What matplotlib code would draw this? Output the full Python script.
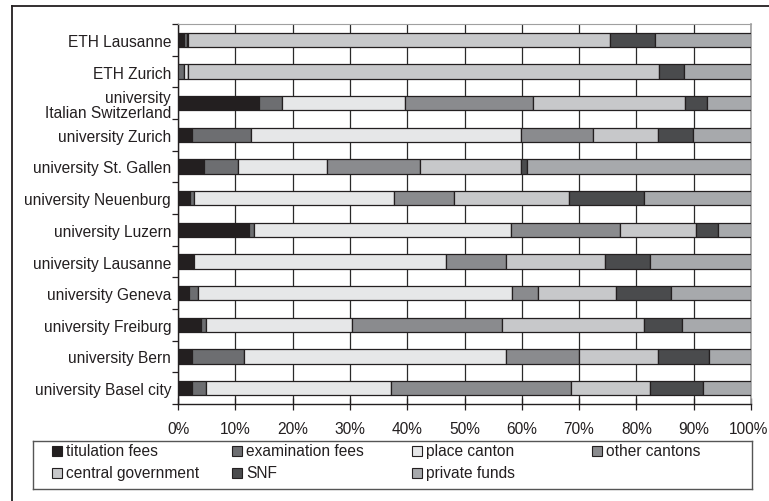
import matplotlib
matplotlib.use("Agg")
import matplotlib.pyplot as plt
import matplotlib.transforms as mtransforms
import numpy as np
from matplotlib.lines import Line2D
from matplotlib.patches import Rectangle

plt.rcParams["font.family"] = ["Liberation Sans", "DejaVu Sans"]

# universities, top to bottom as in the chart
universities = [
    "ETH Lausanne",
    "ETH Zurich",
    "university\nItalian Switzerland",
    "university Zurich",
    "university St. Gallen",
    "university Neuenburg",
    "university Luzern",
    "university Lausanne",
    "university Geneva",
    "university Freiburg",
    "university Bern",
    "university Basel city",
]

# share of funding per source (%), same order as universities
titulation_fees = [1.1, 0.0, 14.2, 2.5, 4.5, 2.1, 12.4, 2.7, 1.9, 4.1, 2.5, 2.4]
examination_fees = [0.4, 1.1, 3.9, 10.3, 5.9, 0.7, 0.9, 0.1, 1.6, 0.8, 9.0, 2.5]
place_canton = [0.3, 0.7, 21.5, 47.1, 15.6, 34.9, 44.9, 43.9, 54.8, 25.4, 45.8, 32.2]
other_cantons = [0.0, 0.0, 22.4, 12.5, 16.3, 10.5, 19.0, 10.6, 4.5, 26.3, 12.7, 31.5]
central_government = [73.6, 82.2, 26.4, 11.4, 17.5, 20.0, 13.2, 17.2, 13.6, 24.7, 13.8, 13.8]
snf = [7.8, 4.3, 3.9, 6.1, 1.1, 13.1, 3.8, 7.9, 9.7, 6.6, 8.9, 9.3]
private_funds = [16.8, 11.7, 7.7, 10.1, 39.1, 18.7, 5.8, 17.6, 13.9, 12.1, 7.3, 8.3]

series_names = [
    "titulation fees",
    "examination fees",
    "place canton",
    "other cantons",
    "central government",
    "SNF",
    "private funds",
]
series_values = [
    titulation_fees,
    examination_fees,
    place_canton,
    other_cantons,
    central_government,
    snf,
    private_funds,
]
colors = ["#231f20", "#6d6e71", "#e6e7e8", "#8a8b8e", "#c7c8ca", "#4a4b4d", "#a7a9ac"]
edge = "#231f20"
fs = 11.2

W, H = 769, 502
fig = plt.figure(figsize=(W / 100, H / 100), dpi=100, facecolor="white")

# axes rectangle in pixels: left 178, right 751, top 25, bottom 405
ax = fig.add_axes([178 / W, 1 - 405 / H, (751 - 178) / W, (405 - 25) / H])

data = np.array(series_values, dtype=float)
shares = data / data.sum(axis=0) * 100
y = np.arange(len(universities))

left = np.zeros(len(universities))
for vals, color in zip(shares, colors):
    ax.barh(y, vals, left=left, height=0.45, color=color,
            edgecolor=edge, linewidth=0.9, zorder=3)
    left += vals

ax.set_xlim(0, 100)
ax.set_ylim(len(universities) - 0.5, -0.5)

ax.set_xticks(np.arange(0, 101, 10))
ax.set_xticklabels([f"{t}%" for t in range(0, 101, 10)], fontsize=fs, color="#231f20")
ax.set_yticks(y)
ax.set_yticklabels(universities, fontsize=fs, color="#231f20", linespacing=1.0)
ax.set_yticks(np.arange(len(universities) + 1) - 0.5, minor=True)

ax.tick_params(axis="y", which="major", length=0, pad=5)
ax.tick_params(axis="y", which="minor", length=4, width=0.9, color="#231f20", direction="out")
ax.tick_params(axis="x", which="major", length=8, width=0.9, color="#231f20",
               direction="inout", pad=8)

# keep "100%" inside the figure edge
last = ax.get_xticklabels()[-1]
last.set_transform(last.get_transform() +
                   mtransforms.ScaledTranslation(-2.5 / 100, 0, fig.dpi_scale_trans))

ax.grid(axis="x", color="#2a2a2a", linewidth=0.9, zorder=0)
ax.set_axisbelow(True)

ax.spines["left"].set_color("#231f20")
ax.spines["bottom"].set_color("#231f20")
ax.spines["left"].set_linewidth(1.0)
ax.spines["bottom"].set_linewidth(1.0)
ax.spines["top"].set_color("#a0a0a0")
ax.spines["right"].set_color("#a0a0a0")
ax.spines["right"].set_linewidth(1.2)

# legend box, drawn in pixel units
lx0, lx1, ly0, ly1 = 33, 752, 442, 490
lax = fig.add_axes([lx0 / W, 1 - ly1 / H, (lx1 - lx0) / W, (ly1 - ly0) / H])
lax.set_xlim(0, lx1 - lx0)
lax.set_ylim(ly1 - ly0, 0)
lax.set_xticks([])
lax.set_yticks([])
for s in lax.spines.values():
    s.set_color("#555555")
    s.set_linewidth(1.0)

col_x = [19, 199, 379, 559]
row_y = [10, 32]
for i, (name, color) in enumerate(zip(series_names, colors)):
    r, c = divmod(i, 4)
    lax.add_patch(Rectangle((col_x[c], row_y[r] - 5), 10, 10, facecolor=color,
                            edgecolor=edge, linewidth=0.8))
    lax.text(col_x[c] + 14, row_y[r], name, fontsize=fs, color="#231f20",
             ha="left", va="center")

# outer frame (top and left edges only, as in the source image)
fig.add_artist(Line2D([12 / W, 1], [1 - 7 / H, 1 - 7 / H], color="#231f20",
                      linewidth=1.3, transform=fig.transFigure))
fig.add_artist(Line2D([12 / W, 12 / W], [0, 1 - 7 / H], color="#231f20",
                      linewidth=1.3, transform=fig.transFigure))

fig.savefig("out.png", dpi=100, facecolor="white")
